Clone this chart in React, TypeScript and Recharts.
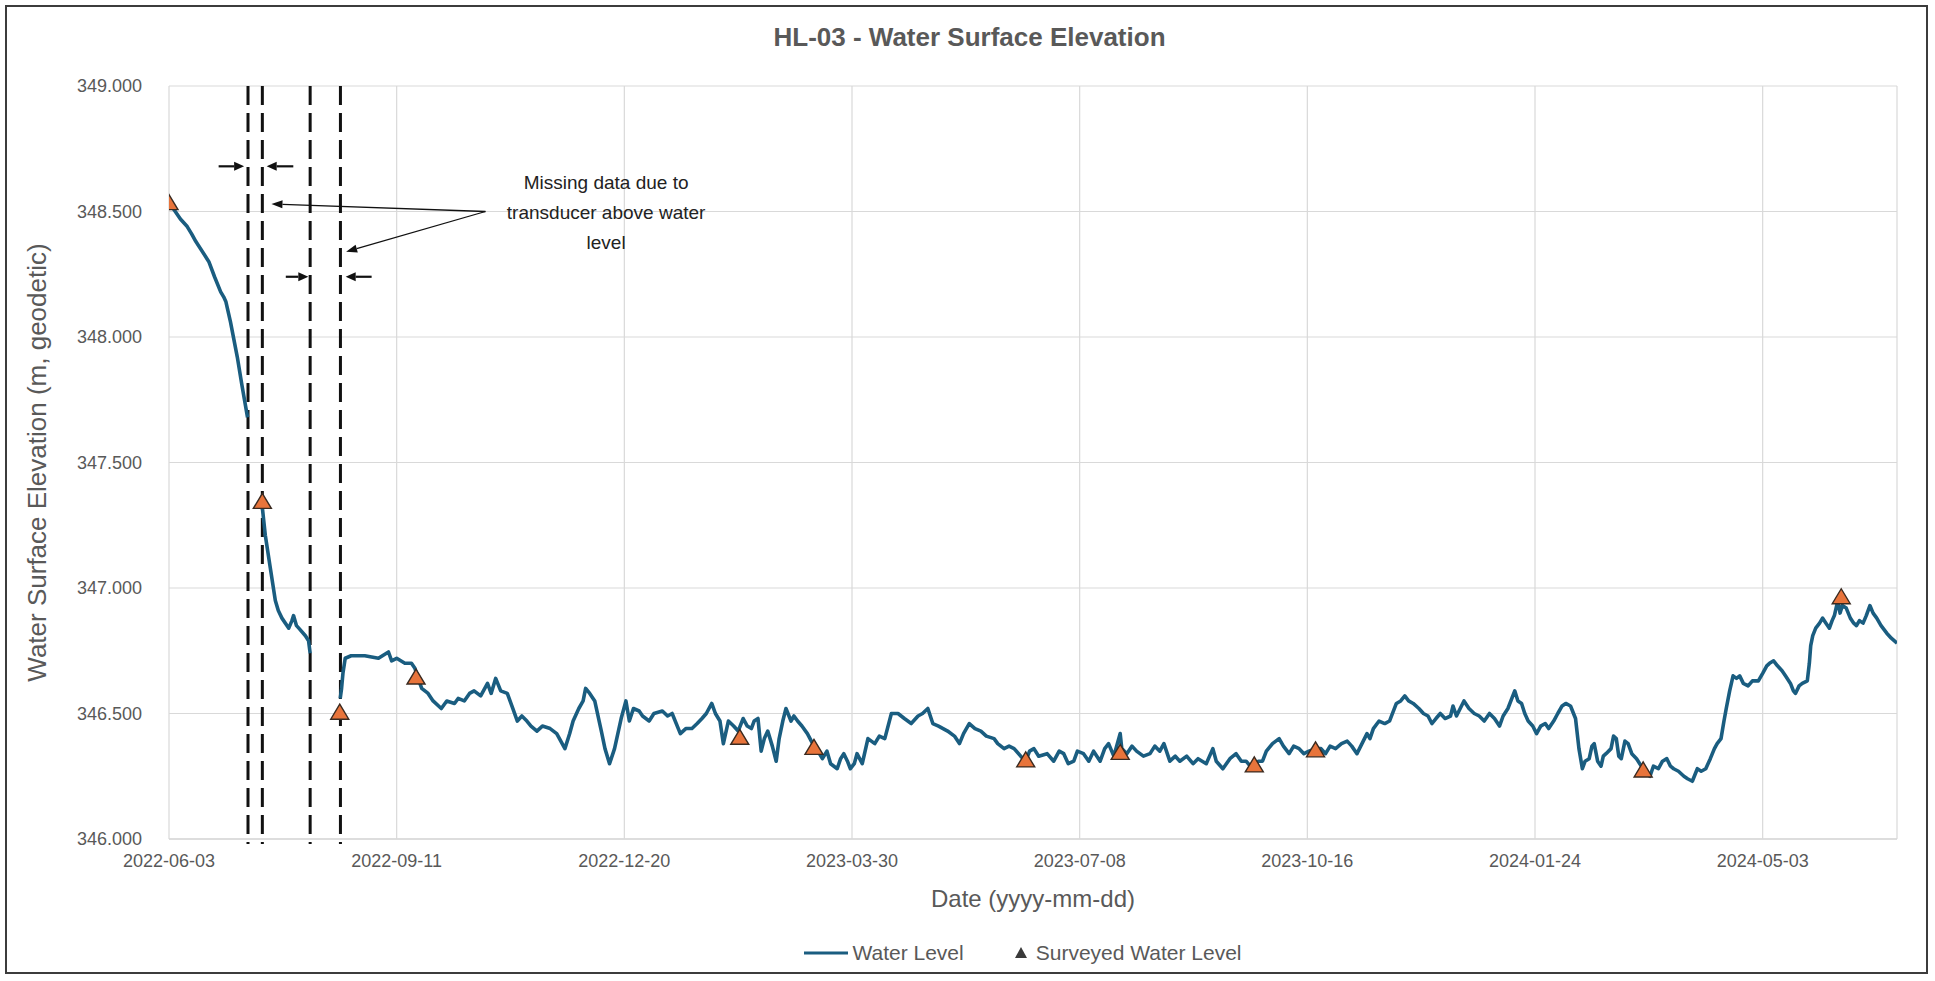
import React from 'react';
import {
  ComposedChart,
  Line,
  Scatter,
  XAxis,
  YAxis,
  CartesianGrid,
  ReferenceLine,
  ReferenceDot,
  Legend,
} from 'recharts';

// ---------- data ----------
const START_DATE = '2022-06-03';
const X_END_DAY = 759;

const xTickLabels = [
  '2022-06-03',
  '2022-09-11',
  '2022-12-20',
  '2023-03-30',
  '2023-07-08',
  '2023-10-16',
  '2024-01-24',
  '2024-05-03',
];

const yTicks = [346.0, 346.5, 347.0, 347.5, 348.0, 348.5, 349.0];

// [days since 2022-06-03, water surface elevation]
const waterLevelSegment1: [number, number][] = [
  [0, 348.53], [2, 348.51], [5, 348.47], [8, 348.44], [10, 348.41], [11.8, 348.38],
  [14, 348.35], [17.5, 348.3], [20, 348.24], [22.7, 348.18], [24, 348.16], [25, 348.14],
  [27, 348.06], [30, 347.92], [32, 347.81], [34.5, 347.68],
];
const waterLevelSegment2: [number, number][] = [
  [41, 347.32], [42.3, 347.21], [44.5, 347.08], [46.7, 346.95], [48, 346.91], [49.6, 346.88],
  [52.6, 346.84], [54, 346.87], [54.7, 346.89], [56, 346.85], [57, 346.84], [59.9, 346.81],
  [61.3, 346.79], [62, 346.74],
];
const waterLevelSegment3: [number, number][] = [
  [75.2, 346.56], [75.8, 346.6], [76.4, 346.66], [77.4, 346.72], [80, 346.73], [86, 346.73],
  [92, 346.72], [96.4, 346.745], [97.8, 346.71], [100, 346.72], [103.6, 346.7], [106.5, 346.7],
  [108, 346.68], [109.4, 346.64], [111, 346.6], [113.8, 346.58], [116, 346.55], [119.6, 346.52],
  [122, 346.55], [125.4, 346.54], [127, 346.56], [129.7, 346.55], [132, 346.58], [134, 346.59],
  [136.9, 346.57], [139.9, 346.62], [141.5, 346.58], [143.5, 346.64], [145.7, 346.59], [148.6, 346.58],
  [151, 346.52], [153, 346.47], [155, 346.49], [157.2, 346.47], [159, 346.45], [161.6, 346.43],
  [164, 346.45], [167.4, 346.44], [170.3, 346.42], [173.9, 346.36], [176, 346.42], [177.5, 346.47],
  [180, 346.52], [181.9, 346.55], [183, 346.6], [184.8, 346.58], [187, 346.55], [189.9, 346.43],
  [191.5, 346.36], [193.5, 346.3], [195.7, 346.36], [198.6, 346.48], [200.7, 346.55], [202.2, 346.47],
  [204, 346.52], [206.5, 346.51], [208, 346.49], [210.9, 346.47], [213, 346.5], [216.7, 346.51],
  [219, 346.49], [221, 346.5], [224.6, 346.42], [227, 346.44], [229.7, 346.44], [232, 346.46],
  [234.1, 346.48], [236, 346.5], [238.4, 346.54], [240, 346.5], [242, 346.47], [243.5, 346.38],
  [245.7, 346.47], [248, 346.45], [250, 346.43], [252.2, 346.48], [254, 346.45], [255.8, 346.44],
  [257, 346.47], [258.7, 346.48], [260.1, 346.35], [261.5, 346.4], [263, 346.43], [265, 346.37],
  [266.7, 346.31], [268, 346.4], [269.6, 346.47], [271, 346.52], [273.2, 346.47], [274.5, 346.49],
  [276.1, 346.47], [278, 346.45], [280.4, 346.42], [283.3, 346.37], [285, 346.35], [287, 346.32],
  [289, 346.35], [290.6, 346.3], [293.5, 346.28], [295, 346.32], [296.4, 346.34], [298, 346.31],
  [299.3, 346.28], [301, 346.3], [302.2, 346.34], [304.5, 346.3], [307, 346.4], [310, 346.38],
  [312, 346.41], [314.4, 346.4], [317.3, 346.5], [320.2, 346.5], [323, 346.48], [326, 346.46],
  [329, 346.49], [331, 346.5], [333.3, 346.52], [335.5, 346.46], [338, 346.45], [342, 346.43],
  [345, 346.41], [347.2, 346.38], [349, 346.42], [351.5, 346.46], [354, 346.44], [356.6, 346.43],
  [359, 346.41], [362.4, 346.4], [364, 346.38], [366.8, 346.36], [369, 346.37], [371.2, 346.36],
  [374.1, 346.33], [376.3, 346.31], [378, 346.35], [379.9, 346.36], [382, 346.33], [385.7, 346.34],
  [388.6, 346.31], [391, 346.35], [393, 346.34], [395, 346.3], [397.4, 346.31], [399, 346.35],
  [401.7, 346.34], [404, 346.31], [406.1, 346.35], [409, 346.31], [411, 346.36], [412.7, 346.38],
  [415, 346.33], [417.8, 346.42], [418.5, 346.36], [420.7, 346.34], [423, 346.37], [425, 346.35],
  [428, 346.33], [430.9, 346.34], [433, 346.37], [435.2, 346.35], [437, 346.38], [439.6, 346.31],
  [442, 346.33], [444, 346.31], [447, 346.33], [449.8, 346.3], [452, 346.32], [455.6, 346.3],
  [458.5, 346.36], [460, 346.31], [462.9, 346.28], [466, 346.32], [468.7, 346.34], [471, 346.31],
  [473.1, 346.31], [475, 346.29], [476.7, 346.29], [478.5, 346.31], [480.3, 346.31], [482, 346.35],
  [484.7, 346.38], [487.6, 346.4], [489.5, 346.37], [492, 346.34], [494, 346.37], [496.4, 346.36],
  [498.5, 346.34], [500.7, 346.35], [503.6, 346.36], [506, 346.36], [508, 346.34], [510, 346.37],
  [512.4, 346.36], [515, 346.38], [517.5, 346.39], [519.5, 346.37], [521.8, 346.34], [524, 346.38],
  [526.2, 346.42], [527.5, 346.4], [529, 346.44], [531.5, 346.47], [534, 346.46], [536.1, 346.47],
  [539.1, 346.54], [541, 346.55], [542.8, 346.57], [544.5, 346.55], [546.5, 346.54], [549, 346.52],
  [551, 346.5], [553, 346.49], [554.7, 346.46], [556.5, 346.48], [558.4, 346.5], [560.5, 346.48],
  [562.9, 346.49], [564, 346.53], [565.5, 346.49], [568.8, 346.55], [571, 346.52], [573.3, 346.5],
  [575.5, 346.49], [577.7, 346.47], [580, 346.5], [582.2, 346.48], [584.4, 346.45], [586, 346.49],
  [588.1, 346.52], [591.1, 346.59], [592.5, 346.55], [594.1, 346.54], [595.5, 346.5], [597, 346.47],
  [599, 346.45], [600.7, 346.42], [602.5, 346.45], [604.5, 346.46], [606, 346.44], [608.2, 346.47],
  [610, 346.5], [611.9, 346.53], [613.5, 346.54], [615.6, 346.53], [617.8, 346.48], [619.3, 346.36],
  [620.8, 346.28], [622, 346.31], [623.8, 346.32], [625, 346.37], [626, 346.38], [627.5, 346.31],
  [629, 346.29], [630, 346.33], [631.2, 346.34], [633.4, 346.36], [634.5, 346.41], [635.7, 346.4],
  [636.8, 346.33], [637.9, 346.32], [639.5, 346.39], [640.9, 346.38], [642.5, 346.34], [644.6, 346.32],
  [646, 346.3], [647.5, 346.28], [649, 346.26], [650.5, 346.25], [652, 346.29], [654.2, 346.28],
  [656, 346.31], [657.9, 346.32], [659.5, 346.29], [660.9, 346.28], [663, 346.27], [665.4, 346.25],
  [667, 346.24], [669.1, 346.23], [671.3, 346.28], [673, 346.27], [675, 346.28], [677, 346.32],
  [678.8, 346.36], [680, 346.38], [681.7, 346.4], [683, 346.47], [684, 346.52], [685.5, 346.59],
  [687, 346.65], [688.5, 346.64], [689.9, 346.65], [691.5, 346.62], [693.6, 346.61], [695.5, 346.63],
  [698.1, 346.63], [700, 346.66], [701.8, 346.69], [703, 346.7], [704.8, 346.71], [706.5, 346.69],
  [708.5, 346.67], [710, 346.65], [712.2, 346.62], [713.5, 346.59], [714.4, 346.58], [716, 346.61],
  [717.4, 346.62], [719.6, 346.63], [720.5, 346.7], [721.1, 346.77], [722, 346.81], [723.3, 346.84],
  [725, 346.86], [726.3, 346.88], [727.8, 346.86], [729.3, 346.84], [730.5, 346.87], [731.5, 346.89],
  [733, 346.95], [734, 346.9], [735, 346.93], [736.7, 346.92], [738.5, 346.88], [740, 346.86],
  [741.2, 346.85], [742.5, 346.87], [744.1, 346.86], [745.5, 346.89], [747.1, 346.93], [748.5, 346.9],
  [750.1, 346.88], [752, 346.85], [754.5, 346.82], [756.5, 346.8], [759, 346.78],
];

// surveyed water level: [day, elevation]
const surveyedLevels: [number, number][] = [
  [0, 348.53], [41, 347.34], [75, 346.5], [108.5, 346.64], [250.7, 346.4], [283.3, 346.36],
  [376.3, 346.31], [417.8, 346.34], [476.7, 346.29], [503.6, 346.35], [647.5, 346.27], [734.5, 346.96],
];

// days of the dashed lines bounding the missing-data periods
const gapBoundaryDays = [34.7, 41, 62, 75.3];

// inward-pointing arrows marking the gaps: [fromDay, toDay, elevation]
const gapArrows: [number, number, number][] = [
  [21.8, 33.0, 348.68],
  [54.6, 42.9, 348.68],
  [51.3, 61.2, 348.24],
  [89.0, 77.6, 348.24],
];

// callout arrows from the note to the gaps: [fromDay, fromElev, toDay, toElev]
const calloutArrows: [number, number, number, number][] = [
  [139, 348.5, 45, 348.53],
  [139, 348.5, 77.8, 348.34],
];

const noteLines = ['Missing data due to', 'transducer above water', 'level'];
const notePosition: [number, number] = [192, 348.498];

// ---------- helpers ----------
const DAY_MS = 86400000;
const parseDay = (s: string) => {
  const [y, m, d] = s.split('-').map(Number);
  return Date.UTC(y, m - 1, d);
};
const START_MS = parseDay(START_DATE);
const dayOfLabel = (s: string) => Math.round((parseDay(s) - START_MS) / DAY_MS);
const labelOfDay = (d: number) => new Date(START_MS + Math.round(d) * DAY_MS).toISOString().slice(0, 10);

const xTicks = xTickLabels.map(dayOfLabel);

const lineData = [
  ...waterLevelSegment1.map(([day, value]) => ({ day, value })),
  { day: (gapBoundaryDays[0] + gapBoundaryDays[1]) / 2, value: null },
  ...waterLevelSegment2.map(([day, value]) => ({ day, value })),
  { day: (gapBoundaryDays[2] + gapBoundaryDays[3]) / 2, value: null },
  ...waterLevelSegment3.map(([day, value]) => ({ day, value })),
];
const surveyData = surveyedLevels.map(([day, survey]) => ({ day, survey }));

// ---------- styling ----------
const W = 1935;
const H = 981;
const FONT = '"Liberation Sans", Arial, sans-serif';
const GRAY = '#595959';
const LINE_COLOR = '#1A5D80';
const TRI_FILL = '#E8743B';
const TRI_STROKE = '#3A2A20';

const Triangle = (props: any) => {
  const { cx, cy } = props;
  if (cx == null || cy == null) return null;
  const w = 18;
  const h = 15;
  return (
    <polygon
      points={`${cx},${cy - h * 0.62} ${cx - w / 2},${cy + h * 0.38} ${cx + w / 2},${cy + h * 0.38}`}
      fill={TRI_FILL}
      stroke={TRI_STROKE}
      strokeWidth={1.4}
      strokeLinejoin="miter"
    />
  );
};

const makeArrow = (headLen: number, headWid: number, sw: number) => (props: any) => {
  const x1 = Number(props.x1);
  const y1 = Number(props.y1);
  const x2 = Number(props.x2);
  const y2 = Number(props.y2);
  const ang = Math.atan2(y2 - y1, x2 - x1);
  const bx = x2 - headLen * Math.cos(ang);
  const by = y2 - headLen * Math.sin(ang);
  const px = (-Math.sin(ang) * headWid) / 2;
  const py = (Math.cos(ang) * headWid) / 2;
  return (
    <g>
      <line x1={x1} y1={y1} x2={bx} y2={by} stroke="#111" strokeWidth={sw} />
      <polygon points={`${x2},${y2} ${bx + px},${by + py} ${bx - px},${by - py}`} fill="#111" />
    </g>
  );
};
const gapArrowShape = makeArrow(10, 9, 2.2);
const calloutArrowShape = makeArrow(11, 8, 1.3);

const dashedShape = (props: any) => {
  const x1 = Number(props.x1);
  const y1 = Number(props.y1);
  const x2 = Number(props.x2);
  const y2 = Number(props.y2);
  return (
    <line x1={x1} y1={Math.min(y1, y2)} x2={x2} y2={Math.max(y1, y2) + 5} stroke="#111" strokeWidth={3} strokeDasharray="19 8" />
  );
};

const noteShape = (props: any) => {
  const { cx, cy } = props;
  return (
    <text x={cx} y={cy} textAnchor="middle" fontFamily={FONT} fontSize={19} fill="#222" dominantBaseline="central">
      {noteLines.map((t, i) => (
        <tspan key={i} x={cx} dy={i === 0 ? -30 : 30}>
          {t}
        </tspan>
      ))}
    </text>
  );
};

const LegendContent = () => (
  <div
    style={{
      display: 'flex',
      justifyContent: 'center',
      alignItems: 'center',
      fontFamily: FONT,
      fontSize: 21,
      color: GRAY,
    }}
  >
    <svg width={44} height={20} style={{ marginRight: 4 }}>
      <line x1={0} y1={10} x2={44} y2={10} stroke={LINE_COLOR} strokeWidth={3} />
    </svg>
    <span>Water Level</span>
    <svg width={14} height={20} style={{ marginLeft: 50, marginRight: 8 }}>
      <polygon points="7,4 1,15 13,15" fill="#3a3a3a" />
    </svg>
    <span>Surveyed Water Level</span>
  </div>
);

export default function App() {
  const plotLeft = 169;
  const plotTop = 86;
  const plotRight = 1897;
  const plotBottom = 839;
  const xAxisH = 60;
  return (
    <div style={{ position: 'absolute', left: 0, top: 0, width: W, height: H, background: '#fff' }}>
      <div
        style={{
          position: 'absolute',
          left: 5,
          top: 5,
          width: W - 12,
          height: H - 12,
          border: '2px solid #3c3c3c',
          boxSizing: 'border-box',
        }}
      />
      <ComposedChart
        width={W}
        height={H}
        margin={{ top: plotTop, right: W - plotRight, left: 0, bottom: H - plotBottom - xAxisH }}
        style={{ position: 'absolute', left: 0, top: 0 }}
      >
        <CartesianGrid stroke="#D9D9D9" strokeWidth={1.2} />
        <XAxis
          type="number"
          dataKey="day"
          domain={[0, X_END_DAY]}
          ticks={xTicks}
          tickFormatter={labelOfDay}
          allowDataOverflow
          height={xAxisH}
          axisLine={{ stroke: '#D9D9D9', strokeWidth: 1.5 }}
          tickLine={false}
          tickMargin={9}
          tick={{ fill: GRAY, fontSize: 18, fontFamily: FONT }}
        />
        <YAxis
          type="number"
          domain={[346, 349]}
          ticks={yTicks}
          allowDataOverflow
          width={plotLeft}
          axisLine={false}
          tickLine={false}
          tickMargin={21}
          tickFormatter={(v: number) => v.toFixed(3)}
          tick={{ fill: GRAY, fontSize: 18, fontFamily: FONT }}
        />
        {gapBoundaryDays.map((d, i) => (
          <ReferenceLine key={`g${i}`} x={d} shape={dashedShape} ifOverflow="visible" />
        ))}
        <Line
          data={lineData}
          dataKey="value"
          type="linear"
          stroke={LINE_COLOR}
          strokeWidth={3.6}
          strokeLinejoin="round"
          dot={false}
          activeDot={false}
          connectNulls={false}
          isAnimationActive={false}
          name="Water Level"
        />
        <Scatter
          data={surveyData}
          dataKey="survey"
          shape={Triangle}
          isAnimationActive={false}
          name="Surveyed Water Level"
        />
        {gapArrows.map(([a, b, y], i) => (
          <ReferenceLine
            key={`a${i}`}
            segment={[{ x: a, y }, { x: b, y }]}
            shape={gapArrowShape}
            ifOverflow="visible"
          />
        ))}
        {calloutArrows.map(([a, ya, b, yb], i) => (
          <ReferenceLine
            key={`c${i}`}
            segment={[{ x: a, y: ya }, { x: b, y: yb }]}
            shape={calloutArrowShape}
            ifOverflow="visible"
          />
        ))}
        <ReferenceDot x={notePosition[0]} y={notePosition[1]} r={0} shape={noteShape} ifOverflow="visible" />
        <Legend
          verticalAlign="middle"
          align="center"
          layout="horizontal"
          content={LegendContent}
          wrapperStyle={{ top: 941, left: plotLeft - 10, width: plotRight - plotLeft, height: 26 }}
        />
        <text x={W / 2 + 2} y={37} textAnchor="middle" dominantBaseline="central" fontFamily={FONT} fontWeight="bold" fontSize={26} fill={GRAY}>
          HL-03 - Water Surface Elevation
        </text>
        <text
          x={(plotLeft + plotRight) / 2}
          y={898}
          textAnchor="middle"
          dominantBaseline="central"
          fontFamily={FONT}
          fontSize={24}
          fill={GRAY}
        >
          Date (yyyy-mm-dd)
        </text>
        <text
          x={37}
          y={(plotTop + plotBottom) / 2}
          textAnchor="middle"
          dominantBaseline="central"
          fontFamily={FONT}
          fontSize={26}
          fill={GRAY}
          transform={`rotate(-90, 37, ${(plotTop + plotBottom) / 2})`}
        >
          Water Surface Elevation (m, geodetic)
        </text>
      </ComposedChart>
    </div>
  );
}
